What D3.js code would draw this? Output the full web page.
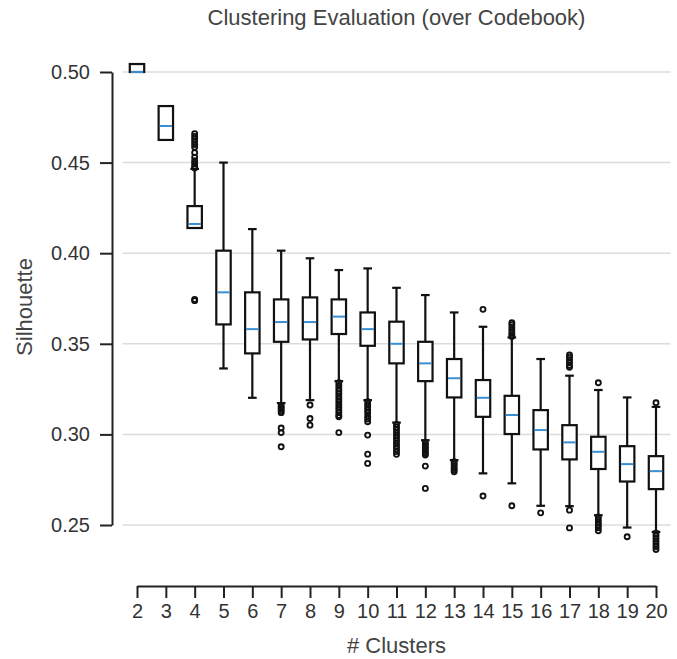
<!DOCTYPE html>
<html>
<head>
<meta charset="utf-8">
<script src="https://cdn.jsdelivr.net/npm/d3@7"></script>
<style>
  body { margin: 0; background: #fff; }
  svg { display: block; }
  text { font-family: "Liberation Sans", Arial, sans-serif; }
</style>
</head>
<body>
<svg id="chart" width="677" height="659"></svg>
<script>
const clusters = [2,3,4,5,6,7,8,9,10,11,12,13,14,15,16,17,18,19,20];
const whiskerLow  = [0.5000,0.4625,0.4139,0.3364,0.3202,0.3173,0.3189,0.3294,0.3189,0.3065,0.2968,0.2858,0.2785,0.2730,0.2606,0.2604,0.2554,0.2486,0.2462];
const q1          = [0.5000,0.4625,0.4139,0.3607,0.3447,0.3511,0.3524,0.3554,0.3489,0.3392,0.3294,0.3204,0.3097,0.3002,0.2917,0.2862,0.2809,0.2740,0.2698];
const medians     = [0.5000,0.4702,0.4161,0.3784,0.3581,0.3620,0.3620,0.3650,0.3581,0.3500,0.3392,0.3310,0.3202,0.3107,0.3024,0.2956,0.2904,0.2836,0.2797];
const q3          = [0.5044,0.4812,0.4260,0.4014,0.3784,0.3745,0.3756,0.3745,0.3673,0.3622,0.3511,0.3416,0.3300,0.3213,0.3134,0.3051,0.2987,0.2935,0.2880];
const whiskerHigh = [0.5044,0.4812,0.4465,0.4500,0.4133,0.4014,0.3972,0.3907,0.3916,0.3809,0.3769,0.3673,0.3594,0.3535,0.3416,0.3324,0.3245,0.3204,0.3152];
const outliers = [
  [],
  [],
  [0.4660,0.4645,0.4630,0.4615,0.4600,0.4585,0.4555,0.4530,0.4510,0.4495,0.4480,0.4470,0.3745,0.3738],
  [],
  [],
  [0.3160,0.3150,0.3140,0.3130,0.3120,0.3035,0.3010,0.2932],
  [0.3162,0.3088,0.3051],
  [0.3285,0.3270,0.3255,0.3240,0.3225,0.3210,0.3195,0.3180,0.3165,0.3150,0.3135,0.3120,0.3105,0.3097,0.3010],
  [0.3180,0.3165,0.3150,0.3135,0.3120,0.3100,0.3085,0.3070,0.2996,0.2891,0.2840],
  [0.3055,0.3040,0.3025,0.3010,0.2995,0.2980,0.2965,0.2950,0.2935,0.2920,0.2905,0.2890],
  [0.2955,0.2945,0.2935,0.2925,0.2915,0.2905,0.2895,0.2886,0.2825,0.2702],
  [0.2850,0.2840,0.2828,0.2815,0.2805,0.2794],
  [0.3690,0.2660],
  [0.3616,0.3605,0.3590,0.3575,0.3560,0.3548,0.3540,0.2606],
  [0.2567],
  [0.3438,0.3425,0.3410,0.3395,0.3380,0.3370,0.2582,0.2484],
  [0.3285,0.2545,0.2530,0.2515,0.2500,0.2485,0.2468],
  [0.2435],
  [0.3175,0.2455,0.2440,0.2425,0.2410,0.2395,0.2380,0.2365]
];
const yTicks = [0.25,0.30,0.35,0.40,0.45,0.50];
const titleText = "Clustering Evaluation (over Codebook)";
const xLabel = "# Clusters";
const yLabel = "Silhouette";

const svg = d3.select("#chart");
const x = d3.scaleLinear().domain([2,20]).range([137,656]);
const y = d3.scaleLinear().domain([0.25,0.50]).range([525,72]);
const step = x(3) - x(2);
const boxW = step * 0.5;
const capW = boxW * 0.6;
const gridX0 = x(2) - step/2, gridX1 = x(20) + step/2;

// grid
svg.append("g").selectAll("line").data(yTicks).join("line")
  .attr("x1", gridX0).attr("x2", gridX1)
  .attr("y1", d => y(d)).attr("y2", d => y(d))
  .attr("stroke", "#dcdcdc").attr("stroke-width", 1.5);

// axes
const yAxis = svg.append("g").attr("transform", "translate(112,0)")
  .call(d3.axisLeft(y).tickValues(yTicks).tickFormat(d3.format(".2f")).tickSize(12).tickSizeOuter(0).tickPadding(10));
const xAxis = svg.append("g").attr("transform", "translate(0,586)")
  .call(d3.axisBottom(x).tickValues(clusters).tickFormat(d3.format("d")).tickSize(12).tickSizeOuter(0).tickPadding(6));
[yAxis, xAxis].forEach(g => {
  g.selectAll("path,line").attr("stroke", "#222").attr("stroke-width", 2);
  g.selectAll("text").attr("fill", "#333").style("font-size", "20px");
});

// boxes
const data = clusters.map((c, i) => ({c, lo: whiskerLow[i], q1: q1[i], med: medians[i], q3: q3[i], hi: whiskerHigh[i], out: outliers[i]}));
const g = svg.append("g");
const bx = g.selectAll("g.box").data(data).join("g").attr("class", "box");
const sw = 2.2;
bx.append("line").attr("x1", d => x(d.c)).attr("x2", d => x(d.c))
  .attr("y1", d => y(d.q3)).attr("y2", d => y(d.hi)).attr("stroke", "#111").attr("stroke-width", sw);
bx.append("line").attr("x1", d => x(d.c)).attr("x2", d => x(d.c))
  .attr("y1", d => y(d.q1)).attr("y2", d => y(d.lo)).attr("stroke", "#111").attr("stroke-width", sw);
bx.filter(d => d.hi > d.q3).append("line").attr("x1", d => x(d.c) - capW/2).attr("x2", d => x(d.c) + capW/2)
  .attr("y1", d => y(d.hi)).attr("y2", d => y(d.hi)).attr("stroke", "#111").attr("stroke-width", sw);
bx.filter(d => d.lo < d.q1).append("line").attr("x1", d => x(d.c) - capW/2).attr("x2", d => x(d.c) + capW/2)
  .attr("y1", d => y(d.lo)).attr("y2", d => y(d.lo)).attr("stroke", "#111").attr("stroke-width", sw);
bx.append("rect").attr("x", d => x(d.c) - boxW/2).attr("width", boxW)
  .attr("y", d => y(d.q3)).attr("height", d => y(d.q1) - y(d.q3))
  .attr("fill", "#fff").attr("stroke", "#111").attr("stroke-width", sw);
bx.append("line").attr("x1", d => x(d.c) - boxW/2 + 1).attr("x2", d => x(d.c) + boxW/2 - 1)
  .attr("y1", d => y(d.med)).attr("y2", d => y(d.med)).attr("stroke", "#3a8fd3").attr("stroke-width", 2);
bx.selectAll("circle").data(d => d.out.map(v => ({c: d.c, v}))).join("circle")
  .attr("cx", d => x(d.c)).attr("cy", d => y(d.v)).attr("r", 2.5)
  .attr("fill", "none").attr("stroke", "#111").attr("stroke-width", 1.9);

// text
svg.append("text").attr("x", (gridX0 + gridX1)/2).attr("y", 25).attr("text-anchor", "middle")
  .attr("fill", "#444").style("font-size", "22px").text(titleText);
svg.append("text").attr("x", (gridX0 + gridX1)/2).attr("y", 653).attr("text-anchor", "middle")
  .attr("fill", "#444").style("font-size", "22px").text(xLabel);
svg.append("text").attr("transform", "translate(32,307) rotate(-90)").attr("text-anchor", "middle")
  .attr("fill", "#444").style("font-size", "22px").text(yLabel);
</script>
</body>
</html>
